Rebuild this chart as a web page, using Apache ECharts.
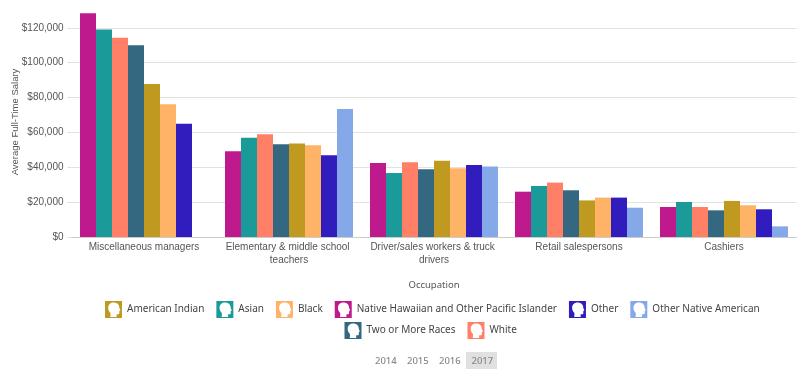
<!DOCTYPE html>
<html><head><meta charset="utf-8">
<style>html,body{margin:0;padding:0;background:#fff}#c{width:800px;height:375px}</style>
<script src="https://cdn.jsdelivr.net/npm/echarts@6/dist/echarts.min.js"></script>
</head><body><div id="c"></div>
<script>
const categories = ['Miscellaneous managers','Elementary & middle school teachers','Driver/sales workers & truck drivers','Retail salespersons','Cashiers'];
const nativeHawaiian = [128400,49200,42500,26000,17200];
const asian = [119000,57000,36700,29300,20100];
const white = [114300,59000,42900,31200,17200];
const twoOrMore = [110000,53200,38900,26800,15300];
const americanIndian = [87800,53600,43800,21000,20700];
const black = [76200,52600,39400,22600,18200];
const other = [65000,46900,41300,22600,15900];
const otherNative = [null,73500,40400,16800,6100];
const yearLabels = ['2014','2015','2016','2017'];
const legendRow1 = ['American Indian','Asian','Black','Native Hawaiian and Other Pacific Islander','Other','Other Native American'];
const legendRow2 = ['Two or More Races','White'];

const head = 'path://M0 0L32 0L32 32L0 32ZM10 30L22 30L22 25L25 25C26.5 25 27 24 27 22L27 19L29 18L27 13C27 7 23 3 16 3C9 3 6 8 6 13C6 17 8 20 10 22C11 24 10 27 10 30Z';
const mk = (name,data,color)=>({name,type:'bar',data,barWidth:16,barGap:'0%',itemStyle:{color},emphasis:{disabled:true}});
const legendBase = {orient:'horizontal',itemWidth:17,itemHeight:17,itemGap:12,icon:head,padding:0,
  textStyle:{fontFamily:'Noto Sans',fontSize:10,color:'#444'},selectedMode:false};
const axisFont='Liberation Sans';
const chart = echarts.init(document.getElementById('c'),null,{renderer:'canvas'});
chart.setOption({
  animation:false,
  backgroundColor:'#fff',
  grid:{left:71.5,right:3.5,top:-7,bottom:138,outerBoundsMode:'none'},
  legend:[
    Object.assign({},legendBase,{data:legendRow1,left:105,top:301}),
    Object.assign({},legendBase,{data:legendRow2,left:344.5,top:322})
  ],
  xAxis:{type:'category',data:categories,name:'Occupation',nameLocation:'middle',nameGap:43,nameMoveOverlap:false,
    nameTextStyle:{fontFamily:'Noto Sans',fontSize:9.5,color:'#555'},
    axisLine:{lineStyle:{color:'#ccc',width:1}},axisTick:{show:false},
    axisLabel:{fontFamily:axisFont,fontSize:10,color:'#555',margin:4,width:140,overflow:'break',lineHeight:13,interval:0}},
  yAxis:{type:'value',min:0,max:140000,interval:20000,name:'Average Full-Time Salary',nameLocation:'middle',nameGap:51,nameMoveOverlap:false,
    nameTextStyle:{fontFamily:axisFont,fontSize:9.5,color:'#555',padding:[0,14,0,0]},
    axisLine:{show:false},axisTick:{show:true,length:4,lineStyle:{color:'#ddd'}},
    splitLine:{lineStyle:{color:'#e2e2e2',width:1}},
    axisLabel:{fontFamily:axisFont,fontSize:10,color:'#555',margin:8,showMaxLabel:false,
      formatter:v=>'$'+v.toLocaleString('en-US')}},
  series:[
    mk('Native Hawaiian and Other Pacific Islander',nativeHawaiian,'#BE1A8E'),
    mk('Asian',asian,'#1A9A98'),
    mk('White',white,'#FF8066'),
    mk('Two or More Races',twoOrMore,'#336880'),
    mk('American Indian',americanIndian,'#C09A20'),
    mk('Black',black,'#FFB366'),
    mk('Other',other,'#311CBE'),
    mk('Other Native American',otherNative,'#84A8E8')
  ],
  graphic:[
    {type:'rect',shape:{x:466,y:352,width:31,height:17},style:{fill:'#e0e0e0'}},
    ...yearLabels.map((t,i)=>({type:'text',x:[375,407,439,471.5][i],y:356,
      style:{text:t,fontFamily:'Noto Sans',fontSize:9.5,fontWeight:500,fill:'#888'}}))
  ]
});
</script></body></html>
